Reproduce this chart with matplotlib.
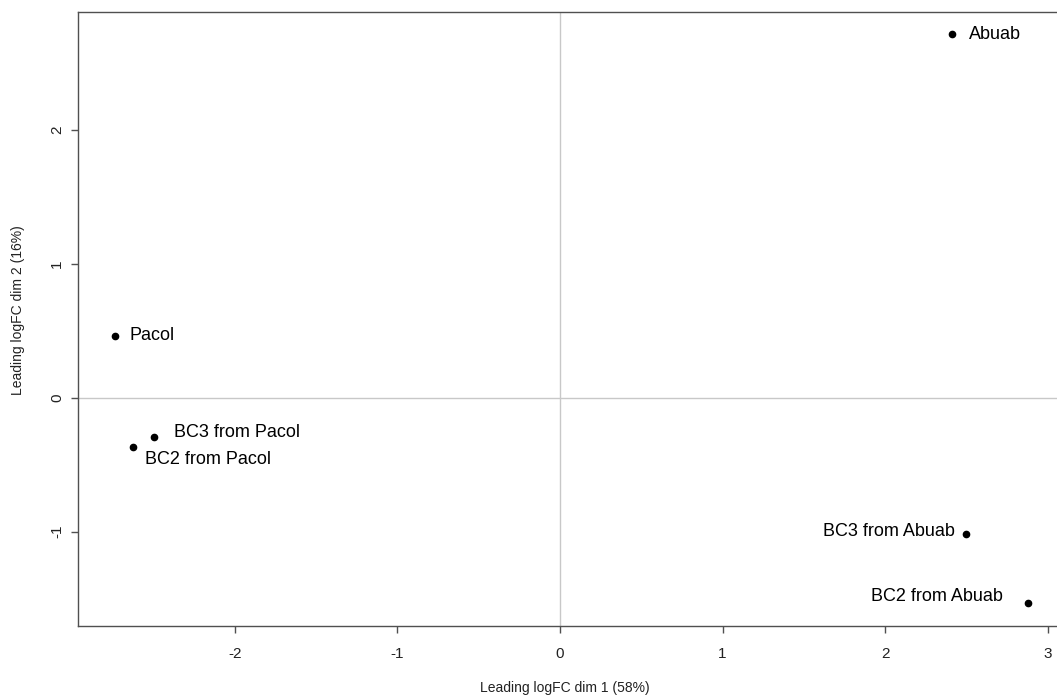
import matplotlib
matplotlib.use("Agg")
import matplotlib.pyplot as plt

plt.rcParams['font.family'] = ['Liberation Sans', 'DejaVu Sans']

samples = ['Abuab', 'Pacol', 'BC3 from Pacol', 'BC2 from Pacol', 'BC3 from Abuab', 'BC2 from Abuab']
dim1 = [2.41, -2.74, -2.495, -2.624, 2.50, 2.876]
dim2 = [2.715, 0.464, -0.292, -0.366, -1.017, -1.533]
# where each label sits relative to its point (points), R text() style
offsets = [(12, 0), (11, 0), (14, 3), (8, -9), (-8, 2), (-18, 5)]
aligns = ['left', 'left', 'left', 'left', 'right', 'right']

W, H = 1057, 695
fig = plt.figure(figsize=(W / 100, H / 100), dpi=100)
# right border of the box runs off the picture, like the original
ax = fig.add_axes([78/W, 1 - 626/H, (1064 - 78)/W, (626 - 12)/H])

ax.axhline(0, color='#c8c8c8', lw=1, zorder=0)
ax.axvline(0, color='#c8c8c8', lw=1, zorder=0)
ax.plot(dim1, dim2, 'o', color='black', ms=4.5, ls='none')

for name, x, y, off, ha in zip(samples, dim1, dim2, offsets, aligns):
    ax.annotate(name, (x, y), xytext=off, textcoords='offset points',
                ha=ha, va='center', fontsize=13)

ax.set_xlim(-2.965, 3.1)
ax.set_ylim(-1.705, 2.883)
ax.set_xticks([-2, -1, 0, 1, 2, 3])
ax.set_yticks([-1, 0, 1, 2])
ax.set_xticklabels(['-2', '-1', '0', '1', '2', '3'])
ax.set_yticklabels(['-1', '0', '1', '2'], rotation=90, va='center')

for s in ax.spines.values():
    s.set_color('#505050')
    s.set_linewidth(1)
ax.tick_params(direction='out', length=5, width=1, color='#505050',
               labelsize=11, labelcolor='#222222')
ax.tick_params(axis='x', pad=10)
ax.tick_params(axis='y', pad=5)

fig.text(565/W, 1 - 688/H, 'Leading logFC dim 1 (58%)', fontsize=10,
         ha='center', va='center', color='#222222')
fig.text(18/W, 1 - 310/H, 'Leading logFC dim 2 (16%)', fontsize=10,
         ha='center', va='center', rotation=90, color='#222222')

fig.savefig('out.png', dpi=100)
